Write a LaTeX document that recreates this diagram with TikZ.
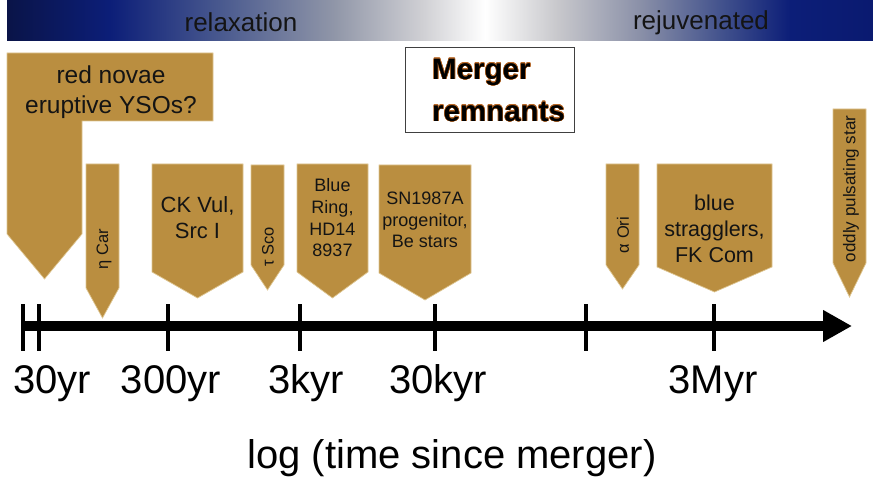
\documentclass[tikz,border=0pt]{standalone}
\usepackage{fontspec}
\setmainfont{Liberation Sans}
\usepackage{contour}
\usetikzlibrary{arrows.meta}

\definecolor{gold}{RGB}{186,142,64}
\definecolor{goldedge}{RGB}{222,198,146}
\definecolor{mergeredge}{RGB}{185,105,40}
\definecolor{bar0}{RGB}{10,20,72}
\definecolor{bar1}{RGB}{12,30,120}
\definecolor{bar2}{RGB}{74,90,143}
\definecolor{bar3}{RGB}{144,150,168}
\definecolor{bar4}{RGB}{208,208,212}
\definecolor{bar5}{RGB}{255,255,255}
\definecolor{bar6}{RGB}{200,200,204}
\definecolor{bar7}{RGB}{138,144,168}
\definecolor{bar8}{RGB}{64,80,140}
\definecolor{bar9}{RGB}{12,30,120}
\definecolor{bar10}{RGB}{10,26,112}

% horizontal band: dark navy, fading to white, back to navy
\pgfdeclarehorizontalshading{barshade}{100bp}{%
  color(0bp)=(bar0); color(25bp)=(bar0); color(30.95bp)=(bar1);
  color(37.41bp)=(bar2); color(43.88bp)=(bar3); color(49.02bp)=(bar4);
  color(52.6bp)=(bar5); color(56.76bp)=(bar6); color(61.55bp)=(bar7);
  color(66.39bp)=(bar8); color(70.21bp)=(bar9); color(75bp)=(bar10);
  color(100bp)=(bar10)}

\contourlength{0.45pt}

\begin{document}
\begin{tikzpicture}[x=1pt,y=-1pt,
  tagfill/.style={fill=gold,draw=goldedge,line width=0.7pt},
  taglabel/.style={text=black!92,align=center,inner sep=0pt},
  sidelabel/.style={taglabel,rotate=90},
  ticklabel/.style={font=\fontsize{40}{40}\selectfont,anchor=base,inner sep=0pt},
  tickmark/.style={line width=3.5pt},
  bandlabel/.style={font=\fontsize{26}{26}\selectfont,anchor=base,inner sep=0pt,text=black!92},
]
\useasboundingbox (0,0) rectangle (873,481);

% top band
\shade[shading=barshade] (7,0) rectangle (873,41);
\node[bandlabel] (relax) at (241,32) {relaxation};
\node[bandlabel] (rejuv) at (701,30) {rejuvenated};

% red novae / eruptive YSOs
\path[tagfill] (7,53) -- (213,53) -- (213,121) -- (82,121) -- (82,234)
  -- (44.5,279) -- (7,234) -- cycle;
\node[taglabel,font=\fontsize{24.5}{30}\selectfont] (rednovae) at (111,92)
  {red novae\\eruptive YSOs?};

% eta Car
\path[tagfill] (86,164) -- (119,164) -- (119,288) -- (102.5,318) -- (86,288) -- cycle;
\node[sidelabel,font=\fontsize{16.5}{16.5}\selectfont] (etacar) at (104,249) {η Car};

% CK Vul
\path[tagfill] (152,164) -- (243,164) -- (243,272) -- (197.5,298) -- (152,272) -- cycle;
\node[taglabel,font=\fontsize{22}{26}\selectfont] (ckvul) at (197.5,218)
  {CK Vul,\\Src I};

% tau Sco
\path[tagfill] (251,165) -- (284,165) -- (284,265) -- (267.5,290) -- (251,265) -- cycle;
\node[sidelabel,font=\fontsize{16.5}{16.5}\selectfont] (tausco) at (268,247) {τ Sco};

% Blue Ring
\path[tagfill] (297,164) -- (368,164) -- (368,272) -- (332.5,298) -- (297,272) -- cycle;
\node[taglabel,font=\fontsize{18}{21.7}\selectfont] (bluering) at (332.5,218)
  {Blue\\Ring,\\HD14\\8937};

% SN1987A
\path[tagfill] (379,165) -- (471,165) -- (471,273) -- (425,300) -- (379,273) -- cycle;
\node[taglabel,font=\fontsize{18}{21.5}\selectfont] (sn) at (425,220)
  {SN1987A\\progenitor,\\Be stars};

% title box
\node[draw=black!75,line width=0.8pt,fill=white,minimum width=169pt,
  minimum height=85pt,inner sep=0pt] (mergerbox) at (489.5,89.5) {};
\node[anchor=west,align=left,inner sep=0pt,
  font=\bfseries\fontsize{29.5}{42}\selectfont] (mergertext) at (432,90.5)
  {\contour{mergeredge}{Merger}\\\contour{mergeredge}{remnants}};

% alpha Ori
\path[tagfill] (606,164) -- (639,164) -- (639,265) -- (622.5,289) -- (606,265) -- cycle;
\node[sidelabel,font=\fontsize{16.5}{16.5}\selectfont] (alphaori) at (623,235) {α Ori};

% blue stragglers
\path[tagfill] (657,164) -- (772,164) -- (772,267) -- (714.5,292) -- (657,267) -- cycle;
\node[taglabel,font=\fontsize{21.5}{26}\selectfont] (bss) at (714.5,229)
  {blue\\stragglers,\\FK Com};

% oddly pulsating star
\path[tagfill] (833,109) -- (866,109) -- (866,263) -- (849.5,297) -- (833,263) -- cycle;
\node[sidelabel,font=\fontsize{17}{17}\selectfont] (odd) at (851,189)
  {oddly pulsating star};

% time axis
\coordinate (axstart) at (21,326);
\coordinate (axend) at (852,326);
\draw[line width=10pt,-{Triangle[length=29pt,width=30pt]}] (axstart) -- (axend);
\foreach \x in {23,39,168,300,435,586,714}
  \draw[tickmark] (\x,304) -- (\x,351);

\node[ticklabel] (l30) at (52,393) {30yr};
\node[ticklabel] (l300) at (171,393) {300yr};
\node[ticklabel] (l3k) at (306,393) {3kyr};
\node[ticklabel] (l30k) at (438,393) {30kyr};
\node[ticklabel] (l3M) at (713,393) {3Myr};

\node[font=\fontsize{40}{40}\selectfont,anchor=base,inner sep=0pt] (axtitle)
  at (452,468) {log (time since merger)};
\end{tikzpicture}
\end{document}
